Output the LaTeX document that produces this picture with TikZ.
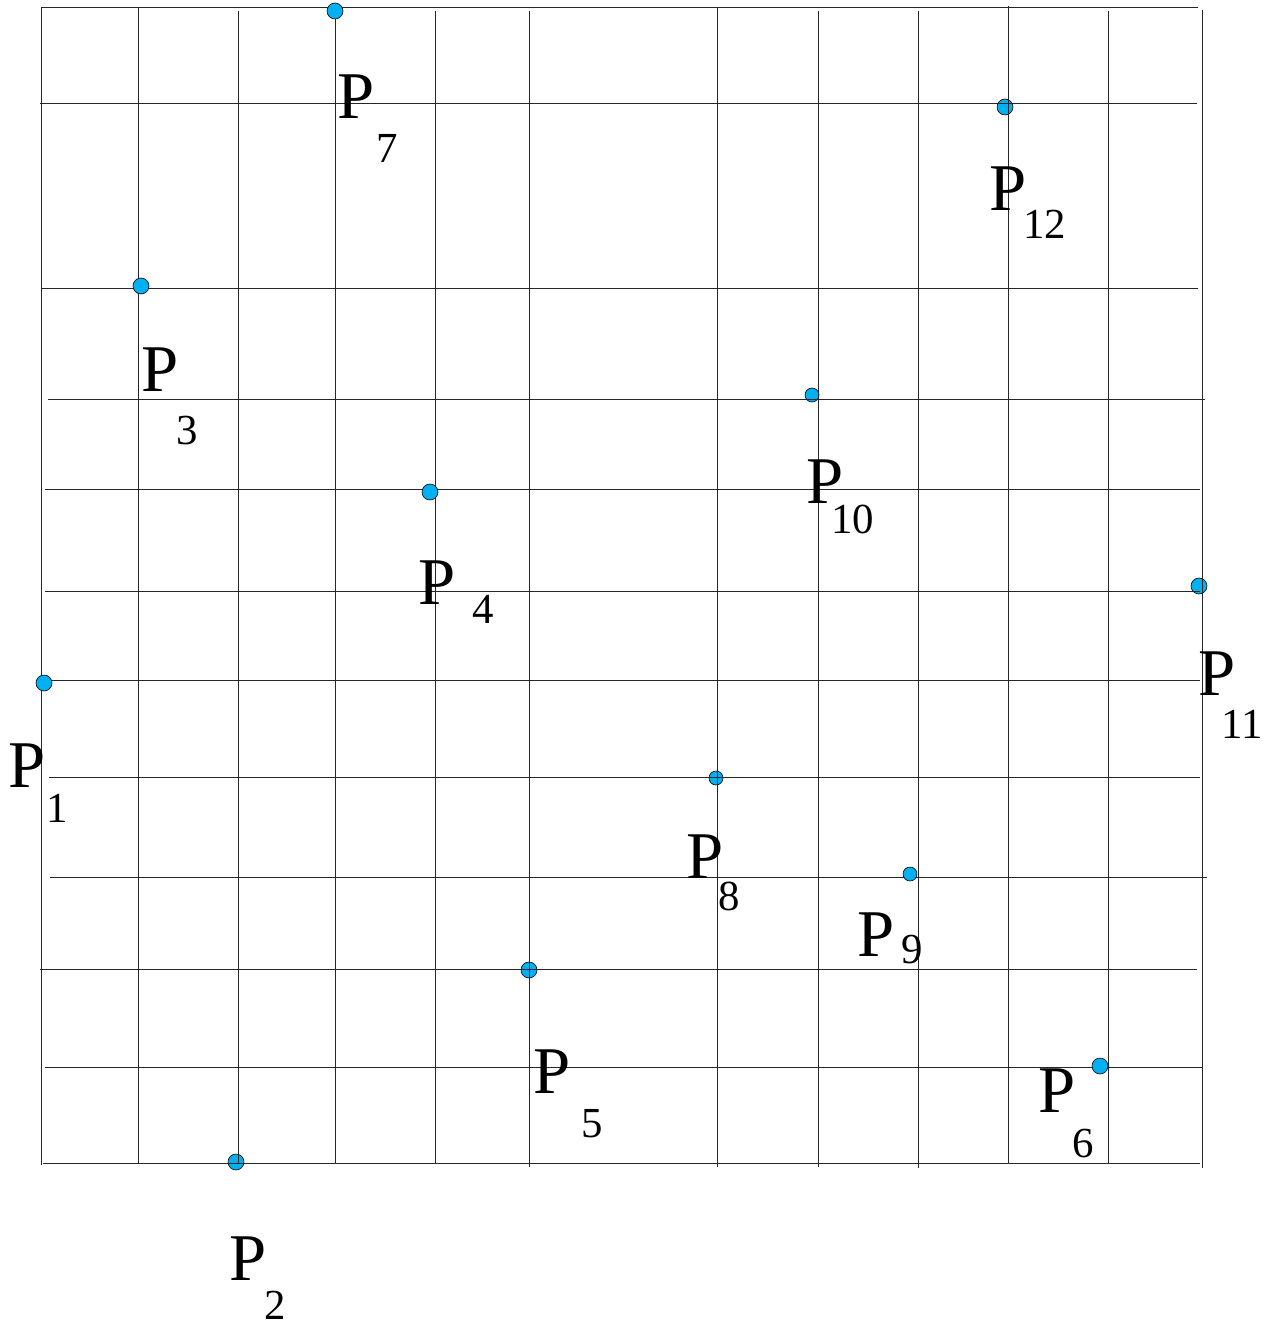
\documentclass[tikz,border=0pt]{standalone}
\usepackage{fontspec}
\setmainfont{Liberation Serif}
\definecolor{dotblue}{RGB}{0,176,240}
\begin{document}
\begin{tikzpicture}[x=1bp,y=-1bp,
  gridline/.style={line width=1bp,draw=black!85},
  dot/.style={circle,fill=dotblue,draw=black,line width=0.6bp,inner sep=0pt,minimum size=16bp},
  smalldot/.style={dot,minimum size=14bp},
  bigP/.style={anchor=base west,inner sep=0pt,font=\fontsize{67}{67}\selectfont},
  subidx/.style={anchor=base west,inner sep=0pt,font=\fontsize{43}{43}\selectfont}]
\useasboundingbox (0,0) rectangle (1265,1328);
% dots drawn under the grid
\node[dot] (p2) at (236,1162) {};
\node[dot] (p5) at (529,970) {};
\node[smalldot] (p8) at (716,778) {};
\node[dot] (p12) at (1005,107) {};
\node[smalldot] (p10) at (812,395) {};
\node[dot] (p11) at (1199,586) {};
% grid
\foreach \x/\ya/\yb in {41/8/1165, 138/8/1163, 238/11/1163, 335/11/1163, 435/11/1163, 529/11/1167, 717/8/1167, 818/11/1167, 918/11/1168, 1008/6/1163, 1108/11/1163, 1202/10/1168}
  \draw[gridline] (\x,\ya) -- (\x,\yb);
\foreach \y/\xa/\xb in {8/41/1198, 104/40/1197, 289/41/1198, 399/48/1205, 489/45/1200, 591/45/1200, 680/41/1200, 777/49/1200, 877/50/1207, 969/40/1197, 1067/45/1202, 1163/43/1200}
  \draw[gridline] (\xa,\y) -- (\xb,\y);
% dots drawn over the grid
\node[dot] (p1) at (44,683) {};
\node[dot] (p3) at (141,286) {};
\node[dot] (p4) at (430,492) {};
\node[dot] (p6) at (1100,1066) {};
\node[dot] (p7) at (335,11) {};
\node[smalldot] (p9) at (910,874) {};
% labels
\node[bigP] (l1) at (8,787) {P};    \node[subidx] (s1) at (46,822) {1};
\node[bigP] (l2) at (229,1280) {P}; \node[subidx] (s2) at (264,1319) {2};
\node[bigP] (l3) at (141,391) {P};  \node[subidx] (s3) at (176,444) {3};
\node[bigP] (l4) at (418,604) {P};  \node[subidx] (s4) at (472,623) {4};
\node[bigP] (l5) at (533,1093) {P}; \node[subidx] (s5) at (581,1137) {5};
\node[bigP] (l6) at (1038,1112) {P};\node[subidx] (s6) at (1072,1157) {6};
\node[bigP] (l7) at (337,119) {P};  \node[subidx] (s7) at (376,163) {7};
\node[bigP] (l8) at (686,878) {P};  \node[subidx] (s8) at (718,910) {8};
\node[bigP] (l9) at (857,956) {P};  \node[subidx] (s9) at (901,963) {9};
\node[bigP] (l10) at (806,503) {P}; \node[subidx] (s10) at (831,533) {10};
\node[bigP] (l11) at (1198,695) {P};\node[subidx] (s11) at (1221,738) {11};
\node[bigP] (l12) at (989,211) {P}; \node[subidx] (s12) at (1023,239) {12};
\end{tikzpicture}
\end{document}
